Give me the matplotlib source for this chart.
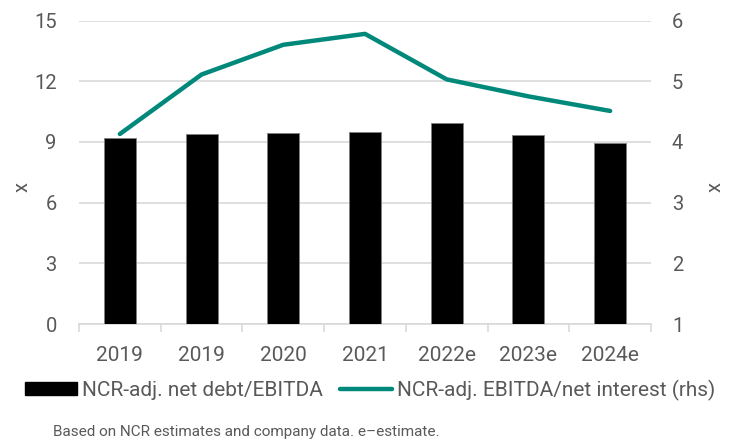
import numpy as np
import matplotlib.pyplot as plt
from matplotlib.patches import Patch
from matplotlib.lines import Line2D

plt.rcParams['font.family'] = ['Roboto', 'DejaVu Sans']

# data
years = ['2019', '2019', '2020', '2021', '2022e', '2023e', '2024e']
net_debt_ebitda = [9.2, 9.4, 9.43, 9.48, 9.93, 9.33, 8.93]
ebitda_interest = [4.13, 5.11, 5.6, 5.78, 5.03, 4.75, 4.51]

grey = '#595959'
teal = '#00897b'
W, H = 729, 443

fig = plt.figure(figsize=(W / 100, H / 100), dpi=100)
ax = fig.add_axes([79 / W, 1 - 324 / H, 572 / W, 303.5 / H])
ax2 = ax.twinx()

x = np.arange(len(years))
ax.bar(x, net_debt_ebitda, width=0.39, color='black', edgecolor='#7f7f7f',
       linewidth=0.6, zorder=3)
ax2.plot(x, ebitda_interest, color=teal, linewidth=3.2, solid_capstyle='round',
         zorder=4)

ax.set_xlim(-0.5, len(years) - 0.5)
ax.set_ylim(0, 15)
ax.set_yticks(np.arange(0, 16, 3))
ax2.set_ylim(1, 6)
ax2.set_yticks(np.arange(1, 7, 1))

ax.grid(axis='y', color='#d9d9d9', linewidth=1.2, zorder=0)
ax.set_axisbelow(True)

for a in (ax, ax2):
    for s in ('top', 'left', 'right', 'bottom'):
        a.spines[s].set_visible(False)
ax.spines['bottom'].set_visible(True)
ax.spines['bottom'].set_color('#d9d9d9')
ax.spines['bottom'].set_linewidth(1.2)

ax.set_xticks(x)
ax.set_xticklabels(years)
ax.set_xticks(np.arange(-0.5, len(years)), minor=True)
ax.tick_params(axis='x', which='major', length=0, pad=16, labelsize=15,
               labelcolor=grey)
ax.tick_params(axis='x', which='minor', length=6, color='#d9d9d9', width=1.2)
ax.tick_params(axis='y', length=0, pad=16, labelsize=14.5, labelcolor=grey)
ax2.tick_params(axis='y', length=0, pad=15, labelsize=14.5, labelcolor=grey)

fig.text(22 / W, 1 - 187 / H, 'x', rotation=90, ha='center', va='center',
         fontsize=14.5, color=grey)
fig.text(715 / W, 1 - 187 / H, 'x', rotation=90, ha='center', va='center',
         fontsize=14.5, color=grey)

handles = [Patch(facecolor='black', edgecolor='black'),
           Line2D([0], [0], color=teal, linewidth=3.2, solid_capstyle='round')]
labels = ['NCR-adj. net debt/EBITDA', 'NCR-adj. EBITDA/net interest (rhs)']
fig.legend(handles, labels, loc='center', bbox_to_anchor=(370 / W, 1 - 390 / H),
           ncol=2, frameon=False, fontsize=15, labelcolor=grey,
           handlelength=2.5, handleheight=0.55, handletextpad=0.25,
           columnspacing=0.8, borderpad=0, borderaxespad=0)

fig.text(53 / W, 1 - 432 / H, 'Based on NCR estimates and company data. e\u2013estimate.',
         fontsize=11, color=grey, ha='left', va='center')

fig.savefig('out.png', dpi=100)
